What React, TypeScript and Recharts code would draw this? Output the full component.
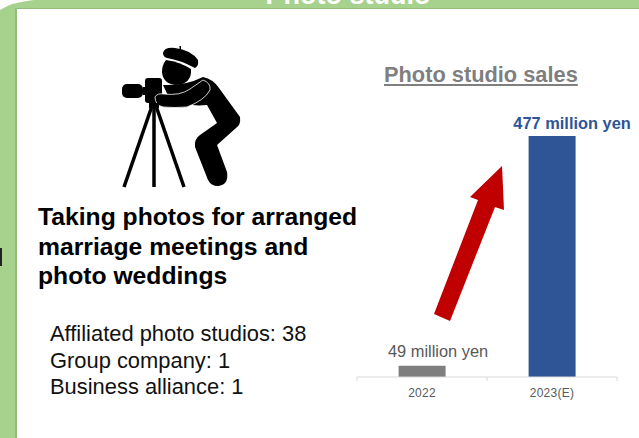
import { Bar, BarChart, Cell, LabelList, XAxis, YAxis } from 'recharts';

const categories = ['2022', '2023(E)'];
const salesMillionYen = [49, 477];
const valueLabels = ['49 million yen', '477 million yen'];
const barColors = ['#7f7f7f', '#2f5597'];
const labelColors = ['#595959', '#2f5597'];
const listLines = ['Affiliated photo studios: 38', 'Group company: 1', 'Business alliance: 1'];
const headingLines = ['Taking photos for arranged', 'marriage meetings and', 'photo weddings'];

const rows = categories.map((name, i) => ({
  name,
  sales: salesMillionYen[i],
  label: valueLabels[i],
}));

const FONT = '"Liberation Sans", Arial, sans-serif';

function ValueLabel(props: any) {
  const { x, y, width, index, value } = props;
  return (
    <text
      x={x + width / 2 + (index === 1 ? 20 : 16)}
      y={y - (index === 1 ? 7 : 9)}
      textAnchor="middle"
      fontFamily={FONT}
      fontSize={16.4}
      fontWeight={index === 1 ? 700 : 400}
      fill={labelColors[index]}
    >
      {value}
    </text>
  );
}

// Tick marks sit on the band edges, labels on the band centres
function BandTick(props: any) {
  const { x, y, payload, index, visibleTicksCount } = props;
  const half = payload.offset ?? 65;
  const isLast = index === (visibleTicksCount ?? categories.length) - 1;
  return (
    <g>
      <line x1={x - half} x2={x - half} y1={y - 8} y2={y - 4} stroke="#d9d9d9" />
      {isLast && <line x1={x + half} x2={x + half} y1={y - 8} y2={y - 4} stroke="#d9d9d9" />}
      <text x={x} y={y + 12} textAnchor="middle" fontFamily={FONT} fontSize={12} letterSpacing={0.25} fill="#595959">
        {payload.value}
      </text>
    </g>
  );
}

// Panel frame, photographer pictogram and the growth arrow
function Backdrop() {
  return (
    <svg width={639} height={438} style={{ position: 'absolute', left: 0, top: 0 }}>
      <rect width={639} height={438} fill="#a6d28e" />
      <path d="M0 0 H34 Q12 2 0 10 Z" fill="#ffffff" />
      <rect x={15} y={8} width={624} height={430} fill="#94bd7d" />
      <rect x={17} y={9} width={622} height={429} fill="#ffffff" />
      <text x={348} y={4} textAnchor="middle" fontFamily={FONT} fontWeight={700} fontSize={27} fill="#ffffff">
        Photo studio
      </text>
      <rect x={0} y={248} width={2} height={18} fill="#222222" />

      <g fill="#000000" stroke="none">
        {/* beret */}
        <path d="M163 53 Q164 47 175 48 Q191 50 198 60 Q199 66 195 68 Q180 60 167 58 Q163 57 163 53 Z" />
        <rect x={179.5} y={46} width={1.5} height={5} />
        {/* head */}
        <path d="M166 60 Q180 62 191 69 Q192 84 176 85 Q163 84 162 72 Q162 65 166 60 Z" />
        {/* camera */}
        <rect x={122} y={84} width={21} height={14} rx={5} />
        <rect x={143} y={87} width={3} height={8} />
        <rect x={145} y={78} width={17} height={25} rx={3} />
        {/* torso and bent leg */}
        <path d="M163 85 Q185 86 203 77 Q213 79 219 88 L240 117 Q241 125 236 128 L217 145 L227 172 Q229 185 218 186 Q211 186 208 180 L195 147 Q194 139 200 135 L217 123 L207 105 Q190 107 170 100 Z" />
        {/* forearm */}
        <path d="M155 97 Q157 93 164 94 Q180 96 190 89 L203 80 Q211 83 210 90 Q205 100 187 107 Q175 108 163 107 Q155 105 155 97 Z" stroke="#ffffff" strokeWidth={0.8} />
      </g>
      {/* tripod */}
      <g stroke="#000000" strokeWidth={3.5} fill="none">
        <path d="M152 106 L124 187" />
        <path d="M154 106 L154 187" />
        <path d="M156 106 L184 187" />
      </g>
      <rect x={149} y={103} width={10} height={5} fill="#000000" />

      <path d="M434 314 L478 200 L470 197 L502 166 L504 210 L495 207 L450 321 Z" fill="#c00000" />
    </svg>
  );
}

export default function App() {
  return (
    <div style={{ position: 'absolute', left: 0, top: 0, width: 639, height: 438, overflow: 'hidden' }}>
      <Backdrop />
      <div style={{ position: 'absolute', left: 38, top: 202, fontFamily: FONT, fontWeight: 700, fontSize: 24.7, lineHeight: '29.5px', color: '#000000', whiteSpace: 'nowrap' }}>
        {headingLines.map((line) => (
          <div key={line}>{line}</div>
        ))}
      </div>
      <div style={{ position: 'absolute', left: 50, top: 321, fontFamily: FONT, fontSize: 21.9, lineHeight: '26.5px', color: '#111111', whiteSpace: 'nowrap' }}>
        {listLines.map((line) => (
          <div key={line}>{line}</div>
        ))}
      </div>
      <div style={{ position: 'absolute', left: 384, top: 62, fontFamily: FONT, fontWeight: 700, fontSize: 21.8, color: '#7f7f7f', textDecoration: 'underline', whiteSpace: 'nowrap' }}>
        Photo studio sales
      </div>
      <div style={{ position: 'absolute', left: 339, top: 100 }}>
        <BarChart
          width={300}
          height={310}
          data={rows}
          margin={{ top: 36, right: 22, bottom: 3, left: 18 }}
          barCategoryGap="32%"
        >
          {/* baseline sits above zero so the small year stays a short stub */}
          <YAxis hide domain={[28, 477]} />
          <XAxis
            dataKey="name"
            interval={0}
            tickLine={false}
            axisLine={{ stroke: '#d9d9d9' }}
            tick={BandTick}
          />
          <Bar dataKey="sales" isAnimationActive={false}>
            {rows.map((row, i) => (
              <Cell key={row.name} fill={barColors[i]} />
            ))}
            <LabelList dataKey="label" content={ValueLabel} />
          </Bar>
        </BarChart>
      </div>
    </div>
  );
}
